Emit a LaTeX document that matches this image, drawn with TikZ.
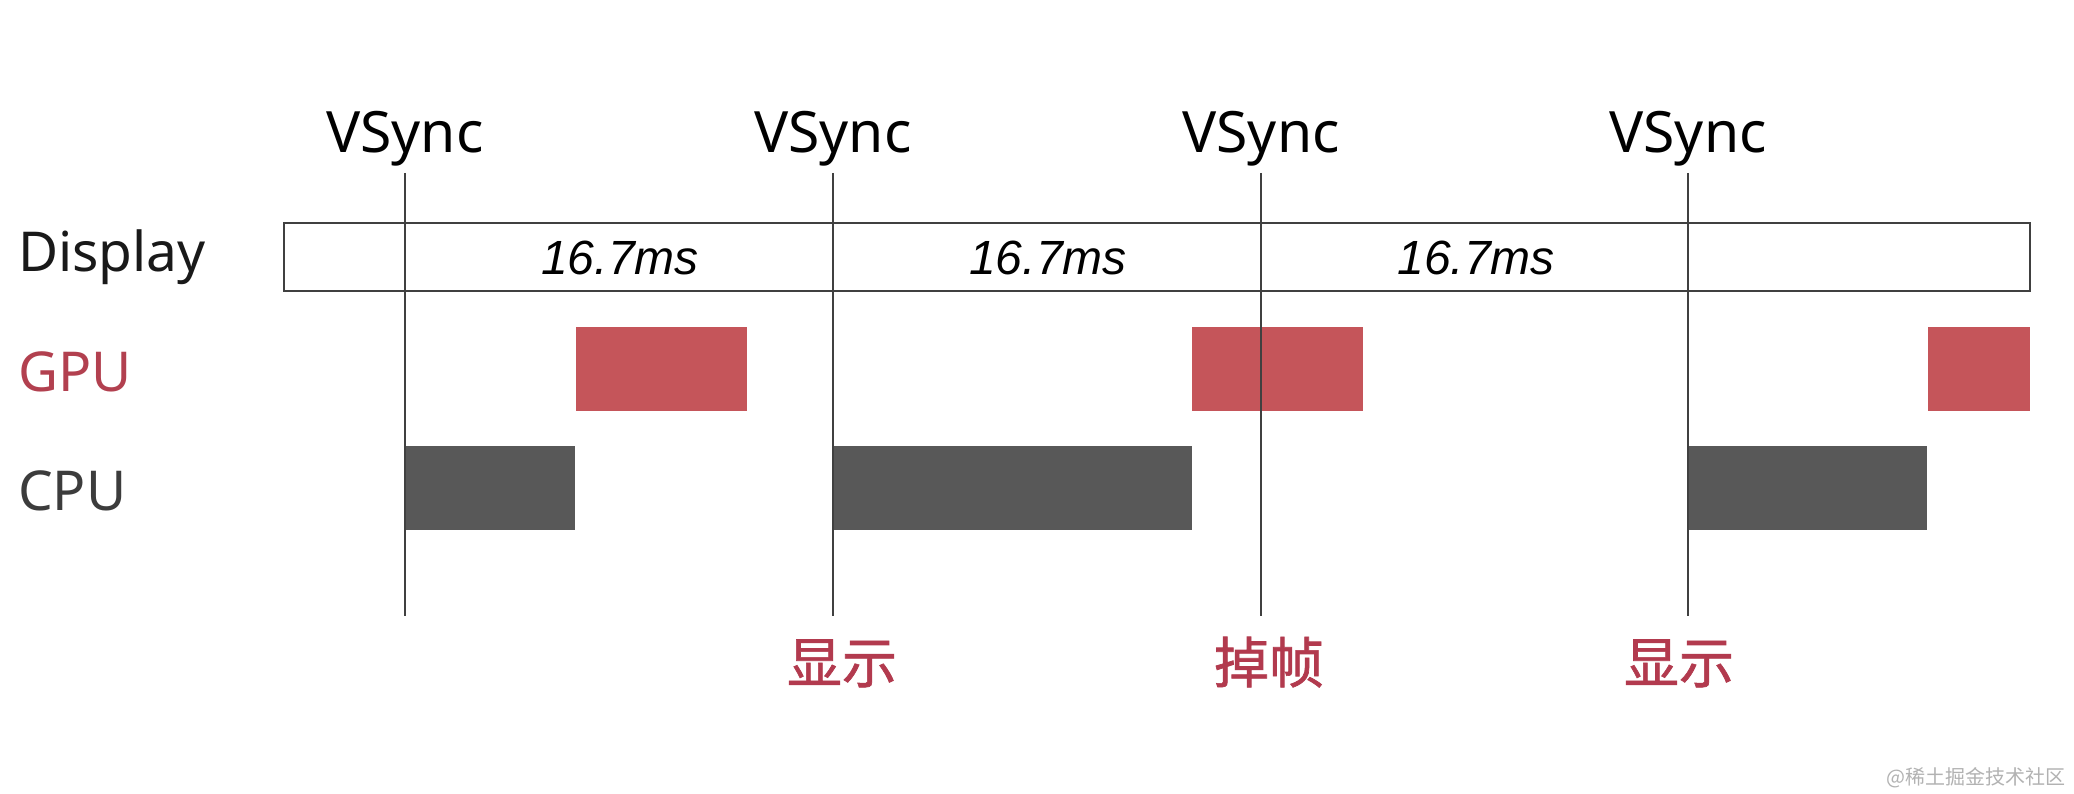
\documentclass[tikz,border=0pt]{standalone}
\usepackage{fontspec}
\setmainfont{Noto Sans}
\newfontfamily\arialfont{Liberation Sans}
\newfontfamily\cjk{Noto Sans CJK SC}
\newfontfamily\cjkheavy[FakeBold=1.2]{Noto Sans CJK SC}
\definecolor{gpured}{HTML}{C5555A}
\definecolor{gputext}{HTML}{B2404F}
\definecolor{cpugray}{HTML}{585858}
\definecolor{cputext}{HTML}{3C3C3C}
\definecolor{linegray}{HTML}{404040}
\definecolor{marktext}{HTML}{B23A4E}
\begin{document}
\begin{tikzpicture}[x=1pt,y=-1pt,
  lbl/.style={inner sep=0pt,anchor=base west,font=\fontsize{55}{58}\selectfont},
  vs/.style={inner sep=0pt,anchor=base,font=\fontsize{57}{60}\selectfont},
  ms/.style={inner sep=0pt,anchor=base,font=\arialfont\itshape\fontsize{48}{50}\selectfont},
  evlabel/.style={inner sep=0pt,anchor=base,text=marktext,font=\cjkheavy\fontsize{55}{58}\selectfont},
  vline/.style={draw=linegray,line width=2pt},
  gpubar/.style={fill=gpured},
  cpubar/.style={fill=cpugray},
  dispbox/.style={draw=linegray,line width=2.2pt,fill=white}]
\useasboundingbox[fill=white] (0,0) rectangle (2074,794);
% row labels
\node[lbl,text=black!90] (ldisp) at (18,272) {Display};
\node[lbl,text=gputext] (lgpu) at (18,391) {GPU};
\node[lbl,text=cputext] (lcpu) at (18,510) {CPU};
% display box
\draw[dispbox] (284,223) rectangle (2030,291);
% GPU bars
\fill[gpubar] (576,327) rectangle (747,411);
\fill[gpubar] (1192,327) rectangle (1363,411);
\fill[gpubar] (1928,327) rectangle (2030,411);
% CPU bars
\fill[cpubar] (405,446) rectangle (575,530);
\fill[cpubar] (833,446) rectangle (1192,530);
\fill[cpubar] (1688,446) rectangle (1927,530);
% vsync lines
\foreach \x/\n in {405/a,833/b,1261/c,1688/d}{
  \coordinate (t\n) at (\x,173);
  \coordinate (b\n) at (\x,616);
  \draw[vline] (t\n) -- (b\n);
  \node[vs] (v\n) at (\x,153) {VSync};
}
% durations
\node[ms] (m1) at (620,275) {16.7ms};
\node[ms] (m2) at (1048,275) {16.7ms};
\node[ms] (m3) at (1476,275) {16.7ms};
% markers
\node[evlabel] (k1) at (842,683) {显示};
\node[evlabel] (k2) at (1269,683) {掉帧};
\node[evlabel] (k3) at (1679,683) {显示};
% watermark
\node[inner sep=0pt,anchor=base east,text=black!30,font=\cjk\fontsize{20}{22}\selectfont] (wm) at (2066,784) {@稀土掘金技术社区};
\end{tikzpicture}
\end{document}
